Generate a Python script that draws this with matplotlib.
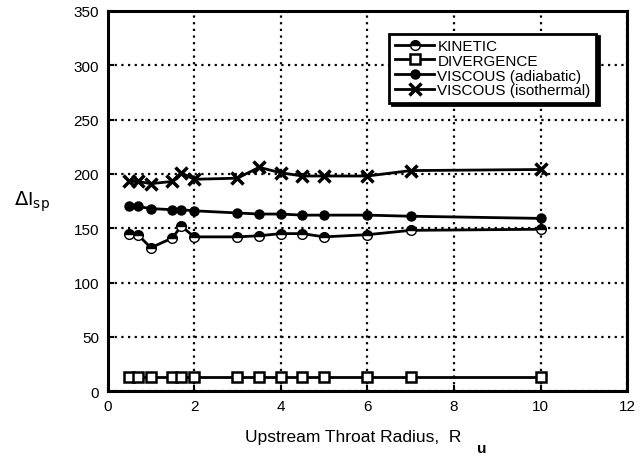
import matplotlib
matplotlib.use("Agg")
import matplotlib.pyplot as plt

plt.rcParams['font.family'] = ['Liberation Sans', 'DejaVu Sans']

radius = [0.5, 0.7, 1.0, 1.5, 1.7, 2.0, 3.0, 3.5, 4.0, 4.5, 5.0, 6.0, 7.0, 10.0]
kinetic = [145, 144, 132, 141, 152, 142, 142, 143, 145, 145, 142, 144, 148, 149]
divergence = [13, 13, 13, 13, 13, 13, 13, 13, 13, 13, 13, 13, 13, 13]
viscous_adiabatic = [170, 170, 168, 167, 167, 166, 164, 163, 163, 162, 162, 162, 161, 159]
viscous_isothermal = [193, 193, 191, 193, 201, 195, 196, 206, 201, 198, 198, 198, 203, 204]

labels = ["KINETIC", "DIVERGENCE", "VISCOUS (adiabatic)", "VISCOUS (isothermal)"]
xticks = [0, 2, 4, 6, 8, 10, 12]
yticks = [0, 50, 100, 150, 200, 250, 300, 350]

fig = plt.figure(figsize=(6.4, 4.56), dpi=100)
ax = fig.add_axes([0.168, 0.14, 0.812, 0.834])

lw = 2.0
ax.plot(radius, kinetic, color='black', lw=lw, marker='o', ms=7, fillstyle='top',
        markerfacecoloralt='white', mec='black', mfc='black', label=labels[0])
ax.plot(radius, divergence, color='black', lw=lw, marker='s', ms=6.5, mfc='white',
        mec='black', mew=1.8, label=labels[1])
ax.plot(radius, viscous_adiabatic, color='black', lw=lw, marker='o', ms=6.5,
        mfc='black', mec='black', label=labels[2])
ax.plot(radius, viscous_isothermal, color='black', lw=lw, marker='x', ms=8, mew=2.5,
        mec='black', label=labels[3])

ax.set_xlim(0, 12)
ax.set_ylim(0, 350)
ax.set_xticks(xticks)
ax.set_yticks(yticks)
ax.grid(True, color='black', linestyle=(0, (1, 2)), linewidth=1.6)
ax.set_axisbelow(True)
for s in ax.spines.values():
    s.set_linewidth(2.2)
ax.tick_params(direction='in', length=4, width=1.5, labelsize=11, pad=6)

ax.set_xlabel("Upstream Throat Radius,  R", fontsize=12.5, va='center')
ax.xaxis.set_label_coords(0.473, -0.12)
fig.text(0.745, 0.016, "u", fontsize=11, fontweight='bold', va='center')
ax.set_ylabel(r"$\Delta$I$_{\rm sp}$", fontsize=14, rotation=0, ha='center', va='center')
ax.yaxis.set_label_coords(-0.146, 0.50)

leg = ax.legend(loc='upper right', bbox_to_anchor=(0.94, 0.94), fontsize=11,
                frameon=True, fancybox=False,
                shadow={'color': 'black', 'alpha': 1},
                borderpad=0.35, labelspacing=0.05, handlelength=2.6,
                handletextpad=0.2, borderaxespad=0.0)
leg.get_frame().set_edgecolor('black')
leg.get_frame().set_linewidth(2.0)
leg.get_frame().set_alpha(1)

fig.savefig("out.png", dpi=100)
